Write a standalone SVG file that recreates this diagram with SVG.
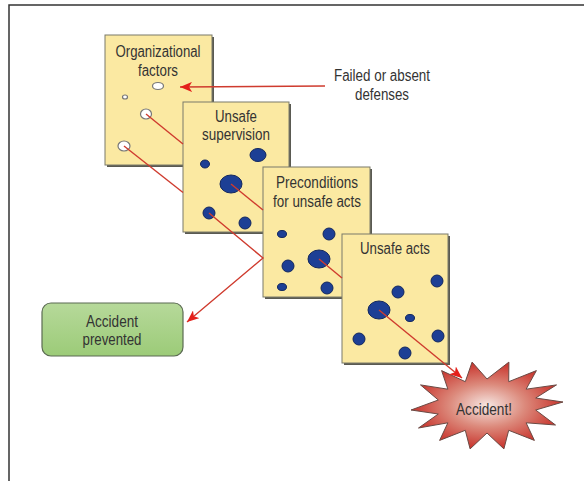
<svg xmlns="http://www.w3.org/2000/svg" width="584" height="481" viewBox="0 0 584 481">
<defs>
<style>
.frame{stroke:#333;stroke-width:1.5;fill:none}
.shadow{fill:#5a5a52}
.panel{fill:#fbe9a2;stroke:#7a7a6a;stroke-width:1}
.t{font-family:"Liberation Sans",Arial,sans-serif;font-size:16px;fill:#333;text-anchor:middle}
.wh{fill:#fff;stroke:#777;stroke-width:1.2}
.bh{fill:#1d3f95;stroke:#12275e;stroke-width:1}
.ln{fill:none;stroke:#cf3b2e;stroke-width:1.4}
</style>
<marker id="ah" markerUnits="userSpaceOnUse" markerWidth="14" markerHeight="10" refX="12" refY="5" orient="auto">
<path d="M0,0 L12,5 L0,10 L3,5 Z" fill="#e4201b"/>
</marker>
<linearGradient id="gg" x1="0" y1="0" x2="0" y2="1">
<stop offset="0" stop-color="#b6d99a"/>
<stop offset="1" stop-color="#9ccb78"/>
</linearGradient>
<radialGradient id="rg" cx="0.5" cy="0.5" r="0.55">
<stop offset="0" stop-color="#f6e6e2"/>
<stop offset="0.45" stop-color="#dc8a7c"/>
<stop offset="1" stop-color="#c4221c"/>
</radialGradient>
</defs>
<rect width="584" height="481" fill="#fff"/>
<path class="frame" d="M9,481 V5 H584"/>

<g id="organizational-factors">
<rect class="shadow" x="107" y="37" width="107" height="130"/>
<rect class="panel" x="105" y="35" width="107" height="130"/>
<text class="t" x="158" y="57" textLength="85" lengthAdjust="spacingAndGlyphs">Organizational</text>
<text class="t" x="158" y="76" textLength="40" lengthAdjust="spacingAndGlyphs">factors</text>
<ellipse class="wh" cx="158" cy="86" rx="5.5" ry="3.5"/>
<ellipse class="wh" cx="125" cy="97" rx="2.5" ry="2"/>
<ellipse class="wh" cx="146" cy="114" rx="5.5" ry="5"/>
<ellipse class="wh" cx="124" cy="146" rx="6" ry="5"/>
</g>

<g id="unsafe-supervision">
<rect class="shadow" x="185" y="104" width="106" height="130"/>
<rect class="panel" x="183" y="102" width="106" height="130"/>
<text class="t" x="236" y="122" textLength="42" lengthAdjust="spacingAndGlyphs">Unsafe</text>
<text class="t" x="236" y="140" textLength="68" lengthAdjust="spacingAndGlyphs">supervision</text>
<ellipse class="bh" cx="258" cy="155" rx="8" ry="6.5"/>
<ellipse class="bh" cx="205" cy="164" rx="4.5" ry="4"/>
<ellipse class="bh" cx="231" cy="184" rx="11" ry="9"/>
<ellipse class="bh" cx="209" cy="213" rx="6" ry="6"/>
<ellipse class="bh" cx="245" cy="223" rx="6" ry="6"/>
</g>

<g id="preconditions">
<rect class="shadow" x="265" y="169" width="107" height="130"/>
<rect class="panel" x="263" y="167" width="107" height="130"/>
<text class="t" x="317" y="188" textLength="82" lengthAdjust="spacingAndGlyphs">Preconditions</text>
<text class="t" x="317" y="207" textLength="88" lengthAdjust="spacingAndGlyphs">for unsafe acts</text>
<ellipse class="bh" cx="282" cy="234" rx="4.5" ry="3.5"/>
<ellipse class="bh" cx="329" cy="234" rx="6" ry="6"/>
<ellipse class="bh" cx="319" cy="259" rx="11" ry="9"/>
<ellipse class="bh" cx="288" cy="266" rx="6" ry="6"/>
<ellipse class="bh" cx="282" cy="287" rx="4.5" ry="3.5"/>
<ellipse class="bh" cx="327" cy="288" rx="6" ry="6"/>
</g>

<g id="unsafe-acts">
<rect class="shadow" x="344" y="236" width="106" height="129"/>
<rect class="panel" x="342" y="234" width="106" height="129"/>
<text class="t" x="395" y="254" textLength="70" lengthAdjust="spacingAndGlyphs">Unsafe acts</text>
<ellipse class="bh" cx="437" cy="281" rx="6" ry="6"/>
<ellipse class="bh" cx="398" cy="292" rx="6" ry="6"/>
<ellipse class="bh" cx="379" cy="310" rx="11" ry="9"/>
<ellipse class="bh" cx="410" cy="318" rx="4.5" ry="3.5"/>
<ellipse class="bh" cx="359" cy="339" rx="6" ry="6"/>
<ellipse class="bh" cx="438" cy="336" rx="6" ry="6"/>
<ellipse class="bh" cx="405" cy="353" rx="6" ry="6"/>
</g>

<g id="failed-defenses">
<text class="t" x="382" y="81" textLength="96" lengthAdjust="spacingAndGlyphs">Failed or absent</text>
<text class="t" x="382" y="100" textLength="54" lengthAdjust="spacingAndGlyphs">defenses</text>
</g>

<g id="accident-prevented">
<rect x="42" y="303" width="141" height="53" rx="9" fill="url(#gg)" stroke="#5b6b52" stroke-width="1.2"/>
<text class="t" x="112" y="327" textLength="52" lengthAdjust="spacingAndGlyphs">Accident</text>
<text class="t" x="112" y="345" textLength="59" lengthAdjust="spacingAndGlyphs">prevented</text>
</g>

<g id="accident">
<polygon fill="url(#rg)" stroke="#6a4a44" stroke-width="1" points="563,402 535.7,410 555.5,425 526.1,422.8 534.4,440.4 508.7,430.3 503.9,448.9 487,433 470.1,448.9 465.3,430.3 439.6,440.4 447.9,422.8 418.5,428 438.3,414 411,410 438.3,400 420.5,384.9 447.9,389.2 441.6,370.6 465.3,381.7 472.1,362.1 487,379 508.9,362.1 508.7,381.7 536.4,370.6 526.1,389.2 556.5,384.9 535.7,398"/>
<text class="t" x="484" y="415" textLength="56" lengthAdjust="spacingAndGlyphs">Accident!</text>
</g>

<g id="connectors">
<line class="ln" x1="325" y1="86" x2="180" y2="87" marker-end="url(#ah)"/>
<line class="ln" x1="146" y1="114" x2="183" y2="144"/>
<line class="ln" x1="231" y1="184" x2="263" y2="210"/>
<line class="ln" x1="319" y1="259" x2="342" y2="278"/>
<line class="ln" x1="379" y1="310" x2="462" y2="378" marker-end="url(#ah)"/>
<line class="ln" x1="124" y1="146" x2="183" y2="192.5"/>
<polyline class="ln" points="209,213 263,258 187,322" marker-end="url(#ah)"/>
</g>
</svg>
